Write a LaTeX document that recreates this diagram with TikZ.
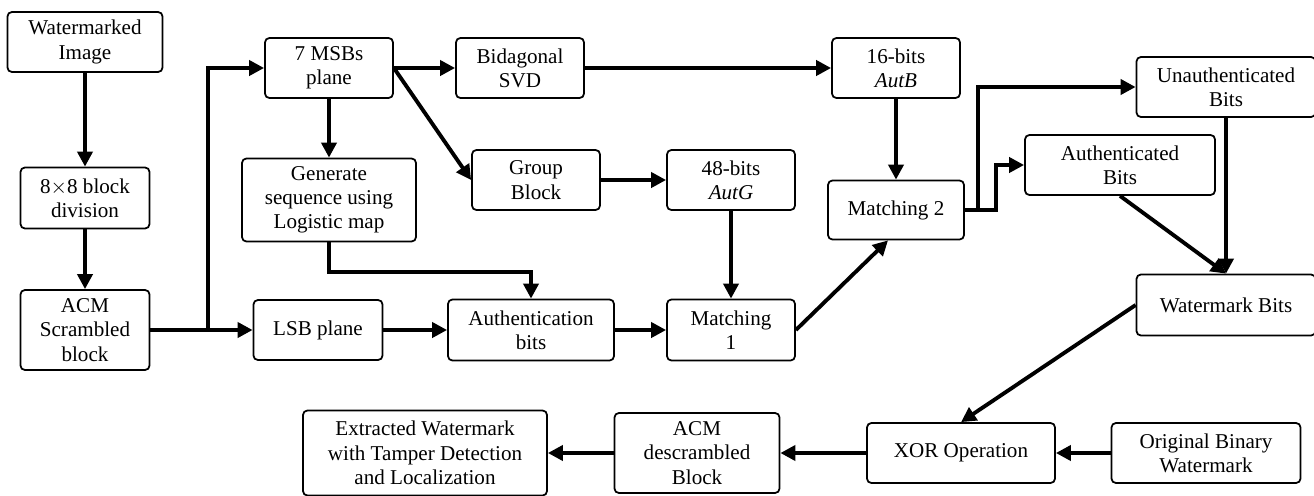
\documentclass[tikz,border=0pt]{standalone}
\usepackage{fontspec}
\setmainfont{Liberation Serif}
\usetikzlibrary{positioning,calc}
\usepgflibrary{arrows.meta}

\begin{document}
\begin{tikzpicture}
    [>={Triangle[length=0.3cm,width=0.3cm]},
    flow/.style={->, line width=2.2pt},
    node distance =2.64cm,
    block/.style={draw, line width=1pt, rounded corners=2.5pt, align=center, inner sep=1pt,
        minimum width=2.56cm, minimum height=1.2cm, font=\fontsize{12pt}{13.8pt}\selectfont}]
    \useasboundingbox (0,0) rectangle (26.28,-9.90);
        %% left column
    \node[block, minimum width=3.1cm] (WI) at (1.70,-0.84) {Watermarked\\Image};
        \node[block, below of = WI, node distance=3.12cm, minimum width=2.58cm, minimum height=1.22cm] (Blk) {8$\times$8 block\\division};
        \node[block, below of = Blk, minimum width=2.58cm, minimum height=1.6cm] (ACM) {ACM\\Scrambled\\block};
        \node[block, right of = ACM, node distance=4.66cm, minimum width=2.58cm] (LSB) {LSB plane};
        \coordinate (Br) at ($(ACM.east)!0.56!(LSB.west)$);

        %% MSB branch
        \node[block] (MSB) at (6.58,-1.36) {7 MSBs\\plane};
        \node[block, below of = MSB, minimum width=3.48cm, minimum height=1.66cm] (Gen) {Generate\\sequence using\\Logistic map};
        \node[block, right of = MSB, node distance=3.82cm] (SVD) {Bidagonal\\SVD};
        \node[block] (Grp) at (10.72,-3.60) {Group\\Block};
        \node[block, right of = Grp, node distance=3.9cm] (AutG) {48-bits\\\textit{AutG}};
        \node[block, right of = SVD, node distance=7.52cm] (AutB) {16-bits\\\textit{AutB}};
        \node[block, below of = AutB, node distance=2.84cm, minimum width=2.72cm, minimum height=1.18cm] (M2) {Matching 2};

        %% LSB branch
        \node[block, right of = LSB, node distance=4.26cm, minimum width=3.32cm, minimum height=1.22cm] (AuB) {Authentication\\bits};
        \node[block, right of = AuB, node distance=4.0cm, minimum height=1.22cm] (M1) {Matching\\1};

        %% right side
        \node[block, minimum width=3.58cm] (Una) at (24.52,-1.74) {Unauthenticated\\Bits};
        \node[block, minimum width=3.8cm] (Aut) at (22.40,-3.30) {Authenticated\\Bits};
        \node[block, below of = Una, node distance=4.36cm, minimum width=3.58cm, minimum height=1.22cm] (WB) {Watermark Bits};

        %% bottom row
        \node[block, minimum width=3.76cm] (XOR) at (19.22,-9.06) {XOR Operation};
        \node[block, right of = XOR, node distance=4.9cm, minimum width=3.78cm] (Org) {Original Binary\\Watermark};
        \node[block, left of = XOR, node distance=5.28cm, minimum width=3.3cm, minimum height=1.6cm] (ACMd) {ACM\\descrambled\\Block};
        \node[block, left of = ACMd, node distance=5.44cm, minimum width=4.88cm, minimum height=1.7cm] (Ext) {Extracted Watermark\\with Tamper Detection\\and Localization};

        \draw[flow] (WI) to (Blk);
        \draw[flow] (Blk) to (ACM);
        \draw[flow] (ACM) to (LSB);
        \draw[flow] (Br) |- (MSB);
        \draw[flow] (MSB) to (SVD);
        \draw[flow] (MSB) to (Gen);
        \draw[flow] (MSB.east) to (Grp.west);
        \draw[flow] (SVD) to (AutB);
        \draw[flow] (Grp) to (AutG);
        \draw[flow] (AutG) to (M1);
        \draw[flow] (AutB) to (M2);
        \draw[flow] (Gen.south) -- ++(0,-0.6) -| (AuB.north);
        \draw[flow] (LSB) to (AuB);
        \draw[flow] (AuB) to (M1);
        \draw[flow] (M1.east) to ($(M2.south)+(-0.16,0)$);
        \draw[flow] (M2.east) -- ++(0.26,0) |- (Una.west);
        \draw[flow] (M2.east) -- ++(0.62,0) |- (Aut.west);
        \draw[flow] (Una) to (WB);
        \draw[flow] (Aut.south) to (WB.north);
        \draw[flow] (WB.west) to (XOR.north);
        \draw[flow] (Org) to (XOR);
        \draw[flow] (XOR) to (ACMd);
        \draw[flow] (ACMd) to (Ext);
    \end{tikzpicture}
\end{document}
